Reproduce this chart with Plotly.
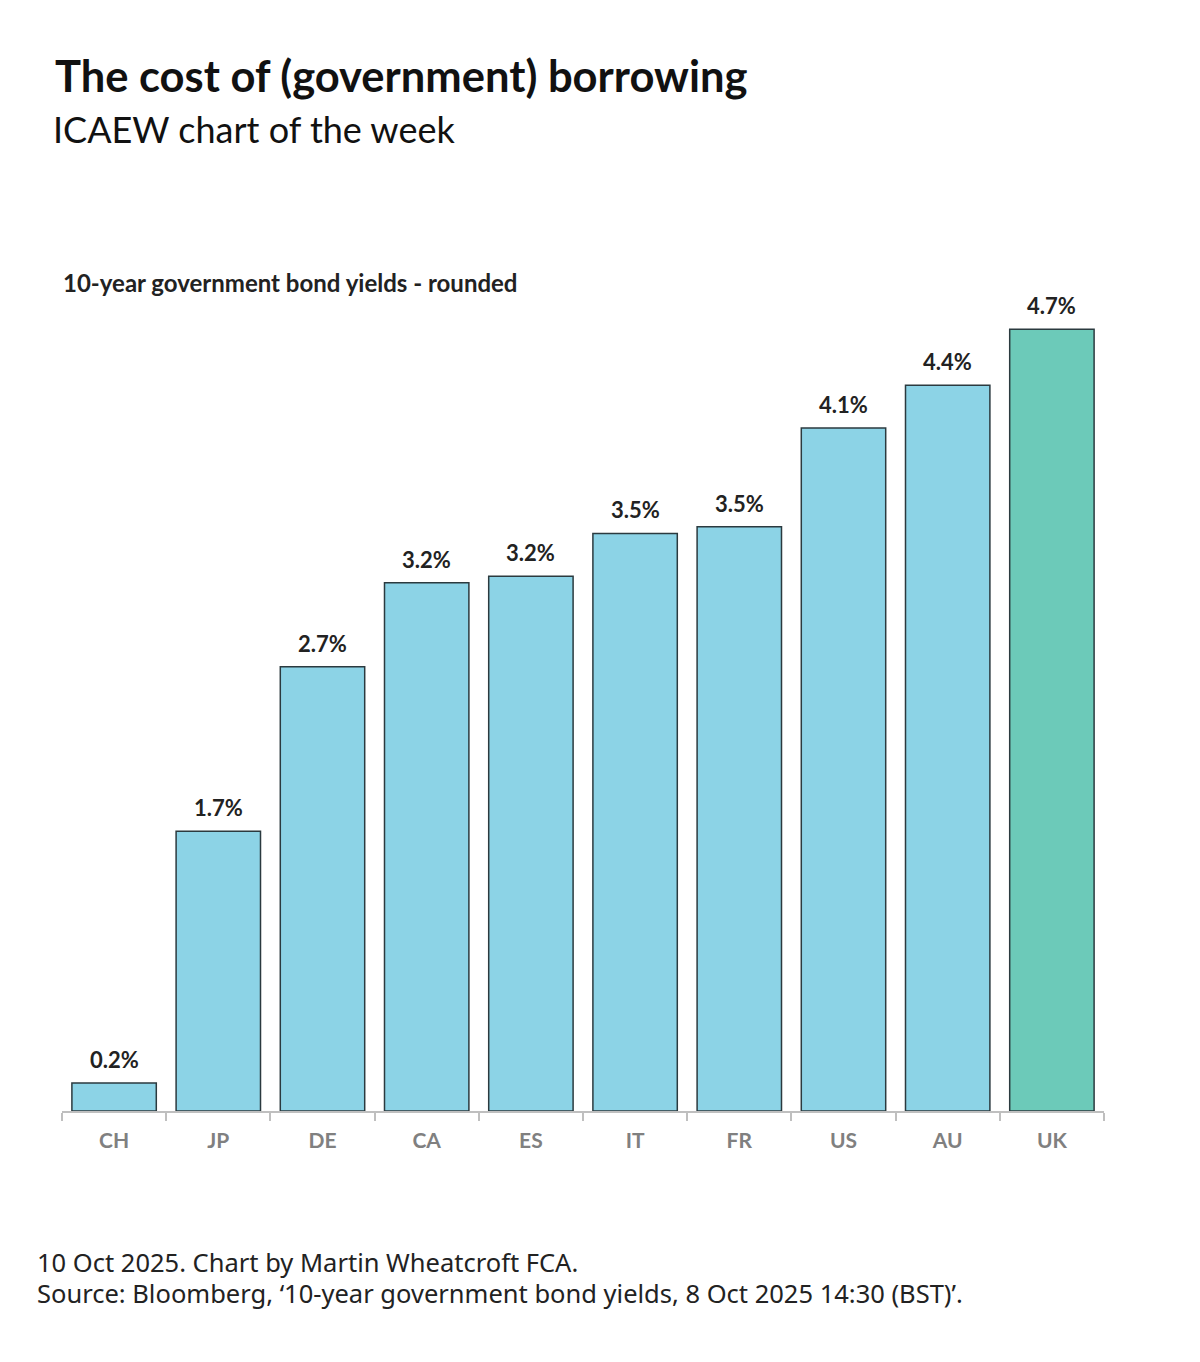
import plotly.graph_objects as go

# 10-year government bond yields (%)
countries = ["CH", "JP", "DE", "CA", "ES", "IT", "FR", "US", "AU", "UK"]
yields = [0.17, 1.70, 2.70, 3.21, 3.25, 3.51, 3.55, 4.15, 4.41, 4.75]
labels = ["0.2%", "1.7%", "2.7%", "3.2%", "3.2%", "3.5%", "3.5%", "4.1%", "4.4%", "4.7%"]

BLUE = "#8cd3e6"
TEAL = "#6ccab9"
colors = [TEAL if c == "UK" else BLUE for c in countries]

fig = go.Figure()
fig.add_trace(go.Bar(
    x=countries, y=yields,
    marker=dict(color=colors, line=dict(color="#2b3a3f", width=1.5)),
))

# value labels sit a little higher above the bars than plotly's own outside text
for c, v, lab in zip(countries, yields, labels):
    fig.add_annotation(x=c, y=v, text=f"<b>{lab}</b>", showarrow=False,
                       yanchor="bottom", yshift=8,
                       font=dict(family="Lato", size=22, color="#222222"))

fig.update_layout(
    width=1200, height=1362,
    paper_bgcolor="white", plot_bgcolor="white",
    margin=dict(l=54, r=104, t=272, b=259),
    bargap=0.19, showlegend=False,
    font=dict(family="Lato"),
)
fig.update_xaxes(
    showline=True, linecolor="#bfbfbf", linewidth=1.5,
    ticks="outside", tickson="boundaries", ticklen=8, tickcolor="#bfbfbf", tickwidth=1.5,
    tickfont=dict(family="Lato", size=21, color="#808080", weight="bold"),
    ticklabelstandoff=10,
    showgrid=False,
)
fig.update_yaxes(range=[0, 5.05], visible=False, showgrid=False)


def note(text, size, xshift, yshift, y=1.0, yanchor="bottom", color="#111111", family="Lato"):
    fig.add_annotation(text=text, xref="paper", yref="paper", x=0, y=y,
                       xanchor="left", yanchor=yanchor, xshift=xshift, yshift=yshift,
                       showarrow=False, align="left",
                       font=dict(family=family, size=size, color=color))


# headings and footnote
note("<b>The cost of (government) borrowing</b>", 43.5, -9, 177)
note("ICAEW chart of the week", 36, -11, 127)
note("<b>10-year government bond yields - rounded</b>", 24, -1, -19, color="#222222")
note("10 Oct 2025. Chart by Martin Wheatcroft FCA.", 25.5, -27, -151, y=0, yanchor="middle",
     color="#222222", family="Noto Sans")
note("Source: Bloomberg, \u201810-year government bond yields, 8 Oct 2025 14:30 (BST)\u2019.",
     25.5, -27, -182, y=0, yanchor="middle", color="#222222", family="Noto Sans")

fig.write_html("out.html")
